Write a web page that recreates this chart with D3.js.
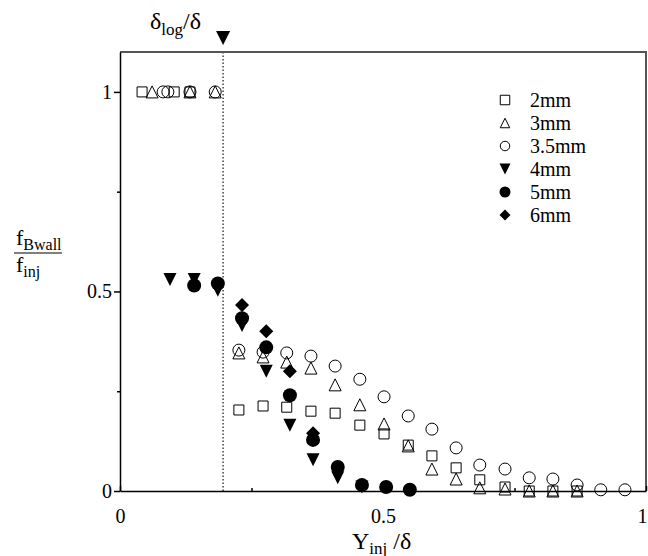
<html>
<head>
<title>fBwall / finj</title>
<script src="https://d3js.org/d3.v7.min.js"></script>
<style>
  body { margin: 0; background: #fff; }
  text { font-family: "Liberation Serif", "Times New Roman", serif; fill: #000; }
</style>
</head>
<body>
<script>
// ---- data ----
var seriesNames = ["2mm", "3mm", "3.5mm", "4mm", "5mm", "6mm"];

var x2mm = [0.042, 0.103, 0.133, 0.226, 0.272, 0.317, 0.363, 0.409, 0.456, 0.502, 0.548, 0.593, 0.639, 0.684, 0.732, 0.778, 0.823, 0.869];
var y2mm = [1, 1, 1, 0.203, 0.213, 0.21, 0.2, 0.195, 0.165, 0.143, 0.115, 0.088, 0.058, 0.028, 0.01, 0.0, 0.0, 0.0];

var x3mm = [0.061, 0.133, 0.181, 0.226, 0.272, 0.317, 0.363, 0.409, 0.456, 0.502, 0.548, 0.593, 0.639, 0.684, 0.732, 0.778, 0.823, 0.869];
var y3mm = [1, 1, 1, 0.346, 0.336, 0.323, 0.308, 0.266, 0.216, 0.168, 0.113, 0.055, 0.03, 0.008, 0.005, 0.0, 0.0, 0.0];

var x35mm = [0.082, 0.091, 0.133, 0.181, 0.226, 0.272, 0.317, 0.363, 0.409, 0.456, 0.502, 0.548, 0.593, 0.639, 0.684, 0.732, 0.778, 0.823, 0.869, 0.914, 0.960];
var y35mm = [1, 1, 1, 1, 0.353, 0.348, 0.346, 0.338, 0.313, 0.28, 0.236, 0.188, 0.155, 0.108, 0.065, 0.055, 0.033, 0.03, 0.015, 0.003, 0.003];

var x4mm = [0.095, 0.141, 0.186, 0.232, 0.278, 0.323, 0.367, 0.414, 0.46];
var y4mm = [0.53, 0.53, 0.503, 0.415, 0.30, 0.165, 0.078, 0.033, 0.01];

var x5mm = [0.141, 0.186, 0.232, 0.278, 0.323, 0.367, 0.414, 0.46, 0.506, 0.551];
var y5mm = [0.515, 0.52, 0.433, 0.36, 0.24, 0.128, 0.06, 0.015, 0.01, 0.003];

var x6mm = [0.232, 0.278, 0.323, 0.367];
var y6mm = [0.466, 0.40, 0.30, 0.145];

var deltaLog = 0.196;   // position of the dotted line

var xTicks = [0, 0.5, 1], xMinor = [0.25, 0.75];
var yTicks = [0, 0.5, 1], yMinor = [0.25, 0.75];

// ---- layout ----
var W = 648, H = 556;
var m = {left: 120, right: 646, top: 52, bottom: 491};

var svg = d3.select("body").append("svg")
    .attr("width", W)
    .attr("height", H);

var x = d3.scaleLinear().domain([0, 1]).range([m.left, m.right]);
var y = d3.scaleLinear().domain([0, 1.1]).range([m.bottom, m.top]);

// marker shapes, centred on their box
function shape(kind, s) {
    var h = s / 2;
    if (kind == "square") return "M" + (-h) + "," + (-h) + "h" + s + "v" + s + "h" + (-s) + "Z";
    if (kind == "up") return "M0," + (-h) + "L" + h + "," + h + "L" + (-h) + "," + h + "Z";
    if (kind == "down") return "M" + (-h) + "," + (-h) + "L" + h + "," + (-h) + "L0," + h + "Z";
    if (kind == "diamond") return "M0," + (-h) + "L" + h + ",0L0," + h + "L" + (-h) + ",0Z";
    return d3.arc()({innerRadius: 0, outerRadius: h, startAngle: 0, endAngle: 2 * Math.PI});
}

var series = [
    {name: "2mm", xs: x2mm, ys: y2mm, kind: "square", size: 10, filled: false},
    {name: "3mm", xs: x3mm, ys: y3mm, kind: "up", size: 12, filled: false},
    {name: "3.5mm", xs: x35mm, ys: y35mm, kind: "circle", size: 12, filled: false},
    {name: "4mm", xs: x4mm, ys: y4mm, kind: "down", size: 13, filled: true},
    {name: "5mm", xs: x5mm, ys: y5mm, kind: "circle", size: 14, filled: true},
    {name: "6mm", xs: x6mm, ys: y6mm, kind: "diamond", size: 14, filled: true}
];

// dotted delta_log line
svg.append("line")
    .attr("x1", x(deltaLog)).attr("x2", x(deltaLog))
    .attr("y1", m.top).attr("y2", m.bottom)
    .attr("stroke", "#444")
    .attr("stroke-width", 1.5)
    .attr("stroke-dasharray", "1.5,2");

// marker above the frame
svg.append("path")
    .attr("d", shape("down", 14))
    .attr("transform", "translate(" + x(deltaLog) + "," + (m.top - 14) + ")")
    .attr("fill", "#000");

// top label delta_log / delta
var tl = svg.append("text").attr("x", 150).attr("y", 29).style("font-size", "24px");
tl.append("tspan").text("δ");
tl.append("tspan").attr("dy", 6).style("font-size", "17px").text("log");
tl.append("tspan").attr("dy", -6).text("/δ");

// points
series.forEach(function(s) {
    var pts = s.xs.map(function(v, i) { return [v, s.ys[i]]; });
    svg.append("g").selectAll("path").data(pts).enter()
        .append("path")
        .attr("d", shape(s.kind, s.size))
        .attr("transform", function(d) { return "translate(" + x(d[0]) + "," + y(d[1]) + ")"; })
        .attr("fill", s.filled ? "#000" : "none")
        .attr("stroke", "#000")
        .attr("stroke-width", s.filled ? 0 : 1);
});

// frame: top and right
svg.append("path")
    .attr("d", "M" + m.left + "," + m.top + "H" + m.right + "V" + m.bottom)
    .attr("fill", "none")
    .attr("stroke", "#555")
    .attr("stroke-width", 2);

// y axis, ticks outward
var yAxis = svg.append("g").attr("transform", "translate(" + m.left + ",0)")
    .call(d3.axisLeft(y).tickValues(yTicks).tickSizeInner(6).tickSizeOuter(0).tickFormat(d3.format("")));
svg.append("g").attr("transform", "translate(" + m.left + ",0)")
    .call(d3.axisLeft(y).tickValues(yMinor).tickSize(3).tickFormat(""))
    .select(".domain").remove();

// x axis, ticks inward
var xAxis = svg.append("g").attr("transform", "translate(0," + m.bottom + ")")
    .call(d3.axisBottom(x).tickValues(xTicks).tickSizeInner(-5).tickSizeOuter(0).tickFormat(d3.format("")));
svg.append("g").attr("transform", "translate(0," + m.bottom + ")")
    .call(d3.axisBottom(x).tickValues(xMinor).tickSizeInner(-3).tickSizeOuter(0).tickFormat(""))
    .select(".domain").remove();

svg.selectAll(".domain").attr("stroke", "#000").attr("stroke-width", 1.5);
svg.selectAll(".tick line").attr("stroke", "#000").attr("stroke-width", 1.5);
svg.selectAll(".tick text")
    .style("font-family", "Liberation Serif, serif")
    .style("font-size", "20px")
    .attr("fill", "#000");
yAxis.selectAll(".tick text").attr("x", -8);
xAxis.selectAll(".tick text").attr("y", 18);
// last label sits on the page edge, keep it inside
xAxis.selectAll(".tick text").filter(function(d) { return d == 1; })
    .attr("text-anchor", "end").attr("dx", 1);

// x label
var xl = svg.append("text").attr("x", 352).attr("y", 549).style("font-size", "24px");
xl.append("tspan").text("Y");
xl.append("tspan").attr("dy", 5).style("font-size", "17px").text("inj");
xl.append("tspan").attr("dy", -5).text(" /δ");

// y label as a fraction
var yl1 = svg.append("text").attr("x", 16).attr("y", 245).style("font-size", "22px");
yl1.append("tspan").text("f");
yl1.append("tspan").attr("dy", 5).style("font-size", "16px").text("Bwall");
svg.append("line")
    .attr("x1", 14).attr("x2", 62).attr("y1", 253).attr("y2", 253)
    .attr("stroke", "#000").attr("stroke-width", 1.2);
var yl2 = svg.append("text").attr("x", 16).attr("y", 272).style("font-size", "22px");
yl2.append("tspan").text("f");
yl2.append("tspan").attr("dy", 5).style("font-size", "16px").text("inj");

// legend
var lg = svg.append("g").selectAll("g").data(series).enter()
    .append("g")
    .attr("transform", function(d, i) { return "translate(505," + (100 + i * 23) + ")"; });
lg.append("path")
    .attr("d", function(d) { return shape(d.kind, d.filled ? 11 : 9.5); })
    .attr("fill", function(d) { return d.filled ? "#000" : "none"; })
    .attr("stroke", "#000")
    .attr("stroke-width", function(d) { return d.filled ? 0 : 1; });
lg.append("text")
    .attr("x", 25)
    .attr("y", 7)
    .style("font-size", "20px")
    .text(function(d) { return d.name; });
</script>
</body>
</html>
